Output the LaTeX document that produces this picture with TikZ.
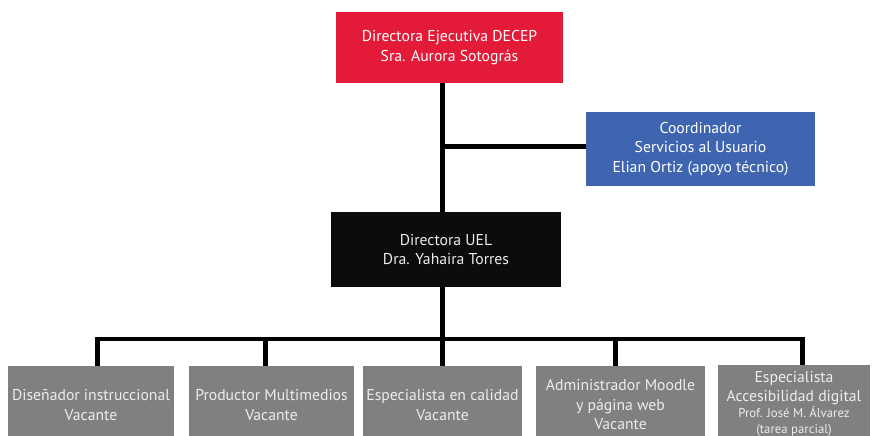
\documentclass[tikz,border=0pt]{standalone}
\usepackage{fontspec}
\setmainfont{PT Sans}
\definecolor{redbox}{HTML}{E41B38}
\definecolor{bluebox}{HTML}{3F65B1}
\definecolor{blackbox}{HTML}{0A0C0D}
\definecolor{graybox}{HTML}{808080}
\definecolor{graytext}{HTML}{EDEDED}
\tikzset{
  box/.style={rectangle, inner sep=0pt, align=center, font=\fontsize{15.7}{19.5}\selectfont},
  topbox/.style={box, fill=redbox, text=white},
  coordbox/.style={box, fill=bluebox, text=white},
  uelbox/.style={box, fill=blackbox, text=graytext},
  staffbox/.style={box, fill=graybox, text=graytext, minimum height=78pt},
  conn/.style={line width=5pt, black},
  bus/.style={line width=4.5pt, black},
}
\newcommand{\smalltxt}{\fontsize{12.8}{16.5}\selectfont}
\begin{document}
\begin{tikzpicture}[x=1pt, y=-1pt]
\useasboundingbox (0,0) rectangle (873,436);
\node[topbox, minimum width=227pt, minimum height=71pt] (dir) at (449.5,47.5)
  {Directora Ejecutiva DECEP\\Sra. Aurora Sotográs};
\node[coordbox, minimum width=229pt, minimum height=74pt] (coord) at (700.5,149)
  {Coordinador\\Servicios al Usuario\\Elian Ortiz (apoyo técnico)};
\node[uelbox, minimum width=230pt, minimum height=75pt] (uel) at (446,249.5)
  {Directora UEL\\Dra. Yahaira Torres};
\node[staffbox, minimum width=166pt] (s1) at (91,405) {Diseñador instruccional\\Vacante};
\node[staffbox, minimum width=165pt] (s2) at (271.5,405) {Productor Multimedios\\Vacante};
\node[staffbox, minimum width=159pt] (s3) at (442.5,405) {Especialista en calidad\\Vacante};
\node[staffbox, minimum width=169pt] (s4) at (620.5,405) {Administrador Moodle\\y página web\\Vacante};
\node[staffbox, minimum width=152pt] (s5) at (794,404)
  {Especialista\\Accesibilidad digital\\[-4pt]{\smalltxt Prof. José M. Álvarez}\\[-3pt]{\smalltxt (tarea parcial)}};
\coordinate (spine) at (442,0);
\coordinate (busL) at (97.7,339);
\coordinate (busR) at (802,339);
\coordinate (d2) at (265.7,339);
\coordinate (d3) at (442,339);
\coordinate (d4) at (615,339);
\draw[conn] (dir.south -| spine) -- (uel.north -| spine);
\draw[conn] ([yshift=3pt]coord.west) -- ([yshift=3pt]coord.west -| spine);
\draw[conn] (uel.south -| spine) -- (d3);
\draw[bus] ([xshift=-2.5pt]busL) -- ([xshift=2.5pt]busR);
\draw[conn] ([yshift=2pt]busL) -- (busL |- s1.north);
\draw[conn] (d2) -- (d2 |- s2.north);
\draw[conn] (d3) -- (d3 |- s3.north);
\draw[conn] (d4) -- (d4 |- s4.north);
\draw[conn] ([yshift=2pt]busR) -- (busR |- s5.north);
\end{tikzpicture}
\end{document}
